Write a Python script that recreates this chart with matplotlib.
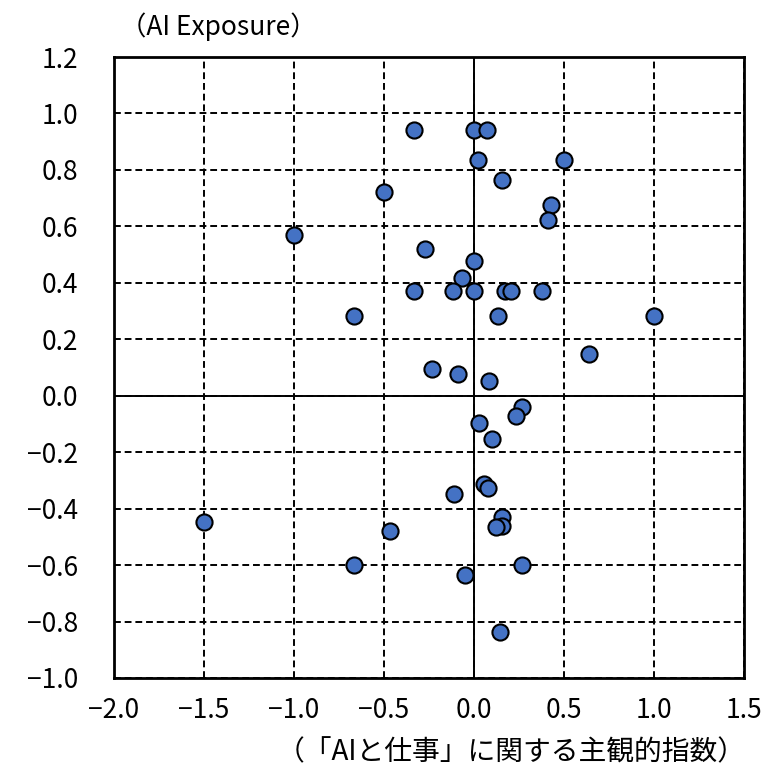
import matplotlib.pyplot as plt

plt.rcParams['font.family'] = ['Noto Sans CJK JP', 'DejaVu Sans']

# subjective index ("AI and work") vs AI exposure
subj_index = [-0.333, 0.000, 0.074, 0.022, 0.500, 0.154, 0.428, 0.411, -0.272, 0.000,
              -0.065, -0.333, -0.119, 0.000, 0.172, 0.204, 0.376, 0.131, 1.000, 0.639,
              -0.233, -0.087, 0.085, -0.500, -1.000, -0.667,
              0.265, 0.231, 0.028, 0.102, 0.057, 0.076, -0.111, 0.156, 0.157, 0.122,
              0.265, -0.050, 0.144, -1.498, -0.467, -0.667]
ai_exposure = [0.940, 0.940, 0.940, 0.836, 0.836, 0.765, 0.674, 0.624, 0.520, 0.478,
               0.417, 0.370, 0.370, 0.370, 0.370, 0.370, 0.370, 0.284, 0.284, 0.147,
               0.093, 0.077, 0.052, 0.721, 0.568, 0.284,
               -0.040, -0.071, -0.095, -0.154, -0.312, -0.327, -0.349, -0.430, -0.460, -0.465,
               -0.598, -0.634, -0.838, -0.449, -0.478, -0.598]

xticks = [-2.0, -1.5, -1.0, -0.5, 0.0, 0.5, 1.0, 1.5]
yticks = [-1.0, -0.8, -0.6, -0.4, -0.2, 0.0, 0.2, 0.4, 0.6, 0.8, 1.0, 1.2]

fig = plt.figure(figsize=(7.67, 7.70), dpi=100)
ax = fig.add_axes([114/767, 1-678/770, 630/767, 621/770])

ax.set_xlim(-2.0, 1.5)
ax.set_ylim(-1.0, 1.2)
ax.set_xticks(xticks)
ax.set_yticks(yticks)
ax.set_xticklabels(['\u2212%.1f' % -t if t < 0 else '%.1f' % t for t in xticks])
ax.set_yticklabels(['\u2212%.1f' % -t if t < 0 else '%.1f' % t for t in yticks])
ax.tick_params(length=0, labelsize=19)
ax.tick_params(axis='y', pad=26)
ax.tick_params(axis='x', pad=14)

ax.grid(color='black', linestyle=(0, (3.5, 2)), linewidth=1.4)
ax.axhline(0, color='black', linewidth=1.4)
ax.axvline(0, color='black', linewidth=1.4)
for s in ax.spines.values():
    s.set_linewidth(2)

ax.scatter(subj_index, ai_exposure, s=135, color='#4472C4', edgecolor='black',
           linewidth=1.5, zorder=3)

fig.text(120/767, 1-27/770, '（AI Exposure）', fontsize=19, va='center', ha='left')
fig.text(746/767, 1-752/770, '（「AIと仕事」に関する主観的指数）', fontsize=20,
         va='center', ha='right')

plt.savefig('out.png', dpi=100)
